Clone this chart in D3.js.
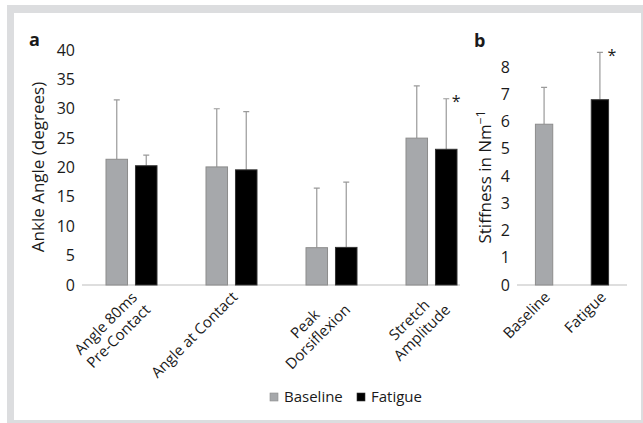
<!DOCTYPE html>
<html>
<head>
<meta charset="utf-8">
<script src="https://cdn.jsdelivr.net/npm/d3@7"></script>
<style>
  body { margin: 0; background: #fff; }
  svg text { font-family: "Open Sans", "Noto Sans", sans-serif; fill: #1a1a1a; }
</style>
</head>
<body>
<script>
  // Panel a data
  var categories = ["Angle 80ms|Pre-Contact", "Angle at Contact", "Peak|Dorsiflexion", "Stretch|Amplitude"];
  var baselineMean = [21.4, 20.1, 6.35, 25.0];
  var baselineErr = [31.5, 30.0, 16.5, 33.9];
  var fatigueMean = [20.3, 19.6, 6.4, 23.1];
  var fatigueErr = [22.1, 29.5, 17.5, 31.7];
  var yTicksA = [0, 5, 10, 15, 20, 25, 30, 35, 40];

  // Panel b data
  var groupsB = ["Baseline", "Fatigue"];
  var stiffMean = [5.9, 6.8];
  var stiffErr = [7.25, 8.54];
  var yTicksB = [0, 1, 2, 3, 4, 5, 6, 7, 8];

  var grey = "#a6a8ab", greyStroke = "#8c8c8c", errCol = "#9a9a9a", axisCol = "#bdbdbd";

  var svg = d3.select("body").append("svg")
    .attr("width", 643)
    .attr("height", 423);

  // frame
  svg.append("rect").attr("x", 7).attr("y", 5).attr("width", 636).attr("height", 418).attr("fill", "#dcdddf");
  svg.append("rect").attr("x", 14).attr("y", 13).attr("width", 627).attr("height", 407).attr("fill", "#fff");

  // rotated label, lines centred on each other, right edge at the tick
  function rotLabel(cx, cy, txt) {
    var lines = txt.split("|");
    var t = svg.append("text")
      .attr("transform", "translate(" + cx + "," + cy + ") rotate(-45)")
      .attr("font-size", 15);
    var spans = lines.map(function(l, j) {
      return t.append("tspan")
        .attr("y", (j * 1.2 + 0.75) + "em")
        .attr("text-anchor", "middle")
        .text(l);
    });
    var maxW = d3.max(spans, function(s) { return s.node().getComputedTextLength(); });
    spans.forEach(function(s) { s.attr("x", -maxW / 2); });
  }

  //----- panel a
  var yA = d3.scaleLinear().domain([0, 40]).range([285, 50]);
  var xA = d3.scaleBand().domain(categories).range([81.5, 481.5]);
  var sub = d3.scaleBand().domain(["b", "f"]).range([24.5, 75.5]).paddingInner(0.27);

  svg.append("line")
    .attr("x1", 82).attr("x2", 460)
    .attr("y1", yA(0)).attr("y2", yA(0))
    .attr("stroke", axisCol);

  svg.append("g").selectAll("text")
    .data(yTicksA)
    .enter().append("text")
    .attr("x", 75)
    .attr("y", function(d) { return yA(d); })
    .attr("dy", "0.35em")
    .attr("text-anchor", "end")
    .attr("font-size", 16)
    .text(function(d) { return d; });

  var barsA = [];
  categories.forEach(function(c, i) {
    barsA.push({ cat: c, s: "b", v: baselineMean[i], e: baselineErr[i] });
    barsA.push({ cat: c, s: "f", v: fatigueMean[i], e: fatigueErr[i] });
  });

  var ga = svg.append("g");
  ga.selectAll(".err")
    .data(barsA)
    .enter().append("path")
    .attr("class", "err")
    .attr("fill", "none")
    .attr("stroke", errCol)
    .attr("stroke-width", 1.2)
    .attr("d", function(d) {
      var cx = xA(d.cat) + sub(d.s) + sub.bandwidth() / 2;
      return "M" + cx + "," + yA(d.v) + "V" + yA(d.e) + "M" + (cx - 3) + "," + yA(d.e) + "H" + (cx + 3);
    });

  ga.selectAll(".bar")
    .data(barsA)
    .enter().append("rect")
    .attr("class", "bar")
    .attr("x", function(d) { return xA(d.cat) + sub(d.s); })
    .attr("y", function(d) { return yA(d.v); })
    .attr("width", sub.bandwidth())
    .attr("height", function(d) { return yA(0) - yA(d.v); })
    .attr("fill", function(d) { return d.s == "b" ? grey : "#000"; })
    .attr("stroke", function(d) { return d.s == "b" ? greyStroke : "#333"; });

  // star on stretch amplitude fatigue
  svg.append("text")
    .attr("x", xA(categories[3]) + sub("f") + sub.bandwidth() / 2 + 10)
    .attr("y", yA(fatigueErr[3]) + 8)
    .attr("text-anchor", "middle")
    .attr("font-size", 16)
    .text("*");

  // x labels
  categories.forEach(function(c) {
    rotLabel(xA(c) + xA.bandwidth() / 2 - 1, 290, c);
  });

  svg.append("text")
    .attr("transform", "translate(44,167) rotate(-90)")
    .attr("text-anchor", "middle")
    .attr("font-size", 17)
    .text("Ankle Angle (degrees)");

  svg.append("text")
    .attr("x", 29).attr("y", 46)
    .attr("font-size", 18)
    .attr("font-weight", "bold")
    .text("a");

  //----- panel b
  var yB = d3.scaleLinear().domain([0, 8]).range([285, 67]);
  var xB = d3.scaleBand().domain(groupsB).range([517, 627]).paddingInner(0.69).paddingOuter(0.33);

  svg.append("line")
    .attr("x1", 517).attr("x2", 627)
    .attr("y1", yB(0)).attr("y2", yB(0))
    .attr("stroke", axisCol);

  svg.append("g").selectAll("text")
    .data(yTicksB)
    .enter().append("text")
    .attr("x", 510)
    .attr("y", function(d) { return yB(d); })
    .attr("dy", "0.35em")
    .attr("text-anchor", "end")
    .attr("font-size", 16)
    .text(function(d) { return d; });

  var barsB = groupsB.map(function(g, i) { return { g: g, v: stiffMean[i], e: stiffErr[i] }; });

  var gb = svg.append("g");
  gb.selectAll(".err")
    .data(barsB)
    .enter().append("path")
    .attr("fill", "none")
    .attr("stroke", errCol)
    .attr("stroke-width", 1.2)
    .attr("d", function(d) {
      var cx = xB(d.g) + xB.bandwidth() / 2;
      return "M" + cx + "," + yB(d.v) + "V" + yB(d.e) + "M" + (cx - 3) + "," + yB(d.e) + "H" + (cx + 3);
    });

  gb.selectAll(".bar")
    .data(barsB)
    .enter().append("rect")
    .attr("x", function(d) { return xB(d.g); })
    .attr("y", function(d) { return yB(d.v); })
    .attr("width", xB.bandwidth())
    .attr("height", function(d) { return yB(0) - yB(d.v); })
    .attr("fill", function(d, i) { return i == 0 ? grey : "#000"; })
    .attr("stroke", function(d, i) { return i == 0 ? greyStroke : "#333"; });

  svg.append("text")
    .attr("x", xB("Fatigue") + xB.bandwidth() / 2 + 12)
    .attr("y", yB(stiffErr[1]) + 9)
    .attr("text-anchor", "middle")
    .attr("font-size", 16)
    .text("*");

  groupsB.forEach(function(g) {
    rotLabel(xB(g) + xB.bandwidth() / 2 - 1, 290, g);
  });

  var tb = svg.append("text")
    .attr("transform", "translate(491,177) rotate(-90)")
    .attr("text-anchor", "middle")
    .attr("font-size", 17);
  tb.append("tspan").text("Stiffness in Nm");
  tb.append("tspan").attr("dy", "-0.5em").attr("font-size", 12).text("\u22121");

  svg.append("text")
    .attr("x", 474).attr("y", 47)
    .attr("font-size", 18)
    .attr("font-weight", "bold")
    .text("b");

  //----- legend
  var legend = svg.append("g").attr("transform", "translate(270,397)");
  var items = [{ n: "Baseline", c: grey, s: greyStroke, x: 0 }, { n: "Fatigue", c: "#000", s: "#333", x: 87 }];
  legend.selectAll("rect")
    .data(items)
    .enter().append("rect")
    .attr("x", function(d) { return d.x; })
    .attr("y", -4)
    .attr("width", 8).attr("height", 8)
    .attr("fill", function(d) { return d.c; })
    .attr("stroke", function(d) { return d.s; })
    .attr("stroke-width", 0.6);
  legend.selectAll("text")
    .data(items)
    .enter().append("text")
    .attr("x", function(d) { return d.x + 14; })
    .attr("dy", "0.35em")
    .attr("font-size", 15)
    .text(function(d) { return d.n; });
</script>
</body>
</html>
